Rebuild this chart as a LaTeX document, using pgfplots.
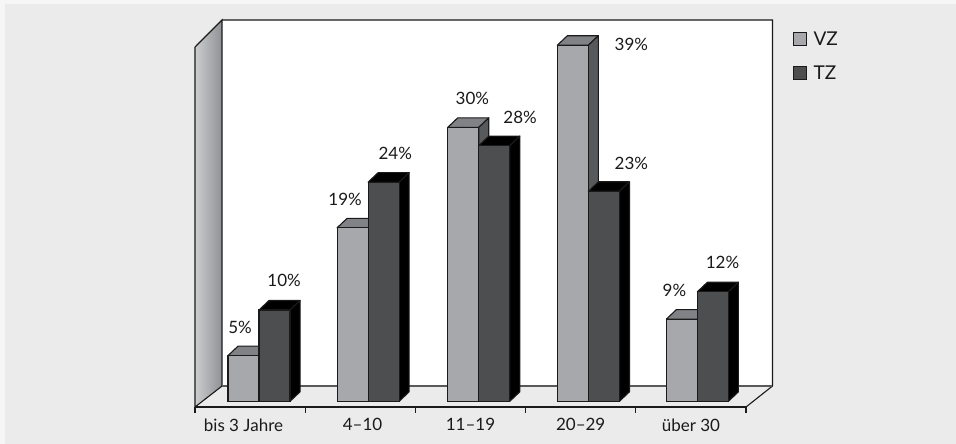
\documentclass[border=0pt]{standalone}
\usepackage{pgfplots}
\usepackage{pgfplotstable}
\usepackage{fontspec}
\pgfplotsset{compat=1.18}
\setmainfont{Lato}

\definecolor{bggray}{HTML}{EBEBEB}
\definecolor{bgedge}{HTML}{F6F6F6}
\definecolor{vzfront}{HTML}{A6A8AB}
\definecolor{vztop}{HTML}{808285}
\definecolor{vzside}{HTML}{58595B}
\definecolor{tzfront}{HTML}{4D4E50}
\definecolor{ink}{HTML}{1A1A1A}
\definecolor{wallleft}{HTML}{CBCDCF}
\definecolor{wallright}{HTML}{8F9194}

% x = where the two bars of a group meet, in category units
\pgfplotstableread{
x     vz  tz
0.581 5   10
1.571 19  24
2.575 30  28
3.570 39  23
4.559 9   12
}\bardata

% label positions
\pgfplotstableread{
x     y     v
0.409 8.05  5
1.362 22.15 19
2.517 33.2  30
3.960 39.1  39
4.351 12.1  9
}\vzlabels
\pgfplotstableread{
x     y     v
0.809 13.2  10
1.817 27.1  24
2.950 31.1  28
3.960 26.1  23
4.787 15.2  12
}\tzlabels

% depth of the extrusion and width of one bar, in axis units
\def\depthx{0.0908}
\def\depthy{1.04}
\def\barw{0.2816}

% top and side face of one bar: left edge, value, top colour, side colour
\newcommand{\barfaces}[4]{%
  \pgfmathsetmacro{\xa}{#1}
  \pgfmathsetmacro{\xb}{#1+\barw}
  \pgfmathsetmacro{\xc}{#1+\depthx}
  \pgfmathsetmacro{\xd}{#1+\barw+\depthx}
  \pgfmathsetmacro{\ya}{#2}
  \pgfmathsetmacro{\yb}{#2+\depthy}
  \addplot[forget plot, draw=ink, line width=1.1pt, line join=round, fill=#3]
    coordinates {(\xa,\ya) (\xc,\yb) (\xd,\yb) (\xb,\ya)} -- cycle;
  \addplot[forget plot, draw=ink, line width=1.1pt, line join=round, fill=#4]
    coordinates {(\xb,\ya) (\xd,\yb) (\xd,\depthy) (\xb,0)} -- cycle;
}

\begin{document}
\begin{tikzpicture}[x=1pt,y=1pt]
  \fill[bgedge] (0,0) rectangle (956,444);
  \fill[bggray] (4.5,0) rectangle (956,439.5);
  \begin{axis}[
      at={(195pt,37pt)},
      anchor=south west,
      scale only axis,
      width=551pt,
      height=387pt,
      xmin=0, xmax=5,
      ymin=-0.624, ymax=41.76,
      clip=false,
      axis y line=none,
      axis x line=bottom,
      axis x line shift=0pt,
      x axis line style={-, line width=1.1pt, draw=ink},
      xtick={0.44,1.52,2.5,3.5,4.5},
      xticklabels={bis 3 Jahre, 4--10, 11--19, 20--29, über 30},
      major tick length=0pt,
      minor xtick={0,1,2,3,4,5},
      minor tick length=6pt,
      every tick/.style={draw=ink, line width=1.1pt},
      tick align=outside,
      xtick pos=lower,
      xticklabel style={font=\fontsize{17}{20}\selectfont, text=ink, yshift=-8pt},
      legend style={
        at={(1.085,0.975)}, anchor=north west,
        draw=none, fill=none, inner sep=0pt,
        font=\fontsize{19}{21}\selectfont, text=ink,
        row sep=15pt,
      },
      legend cell align=left,
      nodes near coords style={font=\fontsize{17}{20}\selectfont, text=ink, anchor=center, inner sep=0pt},
    ]
    % walls and floor of the box
    \fill[left color=wallleft, right color=wallright]
      (axis cs:0,38.8) -- (axis cs:0.2452,41.76) -- (axis cs:0.2452,1.67) -- (axis cs:0,-0.624) -- cycle;
    \fill[white] (axis cs:0.2452,1.67) rectangle (axis cs:5.24,41.76);
    \draw[ink, line width=1.1pt] (axis cs:0,-0.624) -- (axis cs:0,38.8) -- (axis cs:0.2452,41.76) -- (axis cs:0.2452,1.67) -- cycle;
    \draw[ink, line width=1.1pt] (axis cs:0.2452,41.76) -- (axis cs:5.24,41.76) -- (axis cs:5.24,1.67) -- (axis cs:5,-0.624);
    \draw[black!65, line width=1.2pt] (axis cs:0.2452,1.67) -- (axis cs:5.24,1.67);

    \pgfplotsinvokeforeach{0,...,4}{
      \pgfplotstablegetelem{#1}{x}\of\bardata \let\xj\pgfplotsretval
      \pgfplotstablegetelem{#1}{vz}\of\bardata \let\vv\pgfplotsretval
      \pgfmathsetmacro{\xl}{\xj-\barw}
      \barfaces{\xl}{\vv}{vztop}{vzside}
    }
    \addplot[ybar, bar width=31pt, bar shift=-15.5pt, draw=ink, line width=1.1pt, fill=vzfront,
      area legend,
      legend image code/.code={\draw[draw=ink, line width=1.1pt, fill=vzfront] (0pt,-6pt) rectangle (13pt,7pt);
        \path[draw=none, fill=none] (0pt,0pt) -- (18pt,0pt);}]
      table[x=x, y=vz] {\bardata};
    \pgfplotsinvokeforeach{0,...,4}{
      \pgfplotstablegetelem{#1}{x}\of\bardata \let\xj\pgfplotsretval
      \pgfplotstablegetelem{#1}{tz}\of\bardata \let\vv\pgfplotsretval
      \barfaces{\xj}{\vv}{black}{black}
    }
    \addplot[ybar, bar width=31pt, bar shift=15.5pt, draw=ink, line width=1.1pt, fill=tzfront,
      area legend,
      legend image code/.code={\draw[draw=ink, line width=1.1pt, fill=tzfront] (0pt,-6pt) rectangle (13pt,7pt);
        \path[draw=none, fill=none] (0pt,0pt) -- (18pt,0pt);}]
      table[x=x, y=tz] {\bardata};

    \addplot[forget plot, draw=none, mark=none, only marks, point meta=explicit symbolic,
      nodes near coords={\pgfplotspointmeta\%}]
      table[x=x, y=y, meta=v] {\vzlabels};
    \addplot[forget plot, draw=none, mark=none, only marks, point meta=explicit symbolic,
      nodes near coords={\pgfplotspointmeta\%}]
      table[x=x, y=y, meta=v] {\tzlabels};

    \legend{VZ, TZ}
  \end{axis}
\end{tikzpicture}
\end{document}
